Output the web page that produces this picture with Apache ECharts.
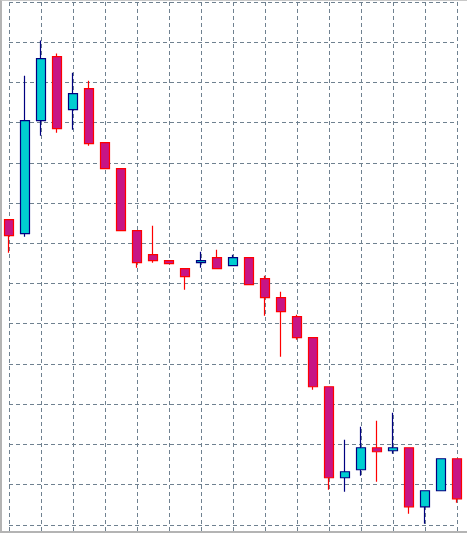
<!DOCTYPE html>
<html><head><meta charset="utf-8">
<script src="https://cdn.jsdelivr.net/npm/echarts@6/dist/echarts.min.js"></script>
<style>html,body{margin:0;padding:0;background:#fff;overflow:hidden;width:467px;height:533px}
#c{width:467px;height:565px;position:absolute;left:0;top:0}
#f{position:absolute;left:0;top:0;width:465px;height:530px;border-left:2px solid #b4b4b4;border-top:1px solid #c8c8c8;border-bottom:2px solid #b4b4b4;pointer-events:none}</style>
</head><body><div id="c"></div><div id="f"></div>
<script>
const categories = Array.from({length:29},(_, i)=>'C'+(i+1));
const opens  = [305,291,404,468,415,436,382,356,294,270,264,256,262,267,259,267,246,227,208,187,138,47,55,77,74,77,18,34,66];
const closes = [289,404,466,396,431,381,356,294,262,264,261,248,264,256,267,240,227,213,187,138,47,53,77,73,77,18,34,66,26];
const lows   = [272,288,389,392,395,379,356,294,257,262,261,235,257,256,259,240,209,168,185,135,35,33,49,43,71,11,1,34,22];
const highs  = [305,449,484,471,452,444,382,356,294,299,264,256,273,275,270,267,249,233,210,187,138,85,98,104,112,77,34,66,66];
const data = categories.map((_, i)=>[opens[i],closes[i],lows[i],highs[i]]);
const chart = echarts.init(document.getElementById('c'));
const sl = {show:true,lineStyle:{color:'#6f8190',type:[4,3],width:1}};
chart.setOption({
  animation:false,
  grid:{left:9,right:10,top:2,bottom:0},
  xAxis:{type:'category',data:categories,boundaryGap:false,axisLine:{show:false},axisTick:{show:false},axisLabel:{show:false},splitLine:Object.assign({interval:1},sl)},
  yAxis:{type:'value',min:-40.2,max:522.6,interval:40.2,axisLine:{show:false},axisTick:{show:false},axisLabel:{show:false},splitLine:sl},
  series:[{type:'candlestick',data:data,barWidth:10,clip:false,
    itemStyle:{color:'#00CED1',color0:'#C71585',borderColor:'#000080',borderColor0:'#FF0000',borderWidth:1.2}}]
});
</script></body></html>
